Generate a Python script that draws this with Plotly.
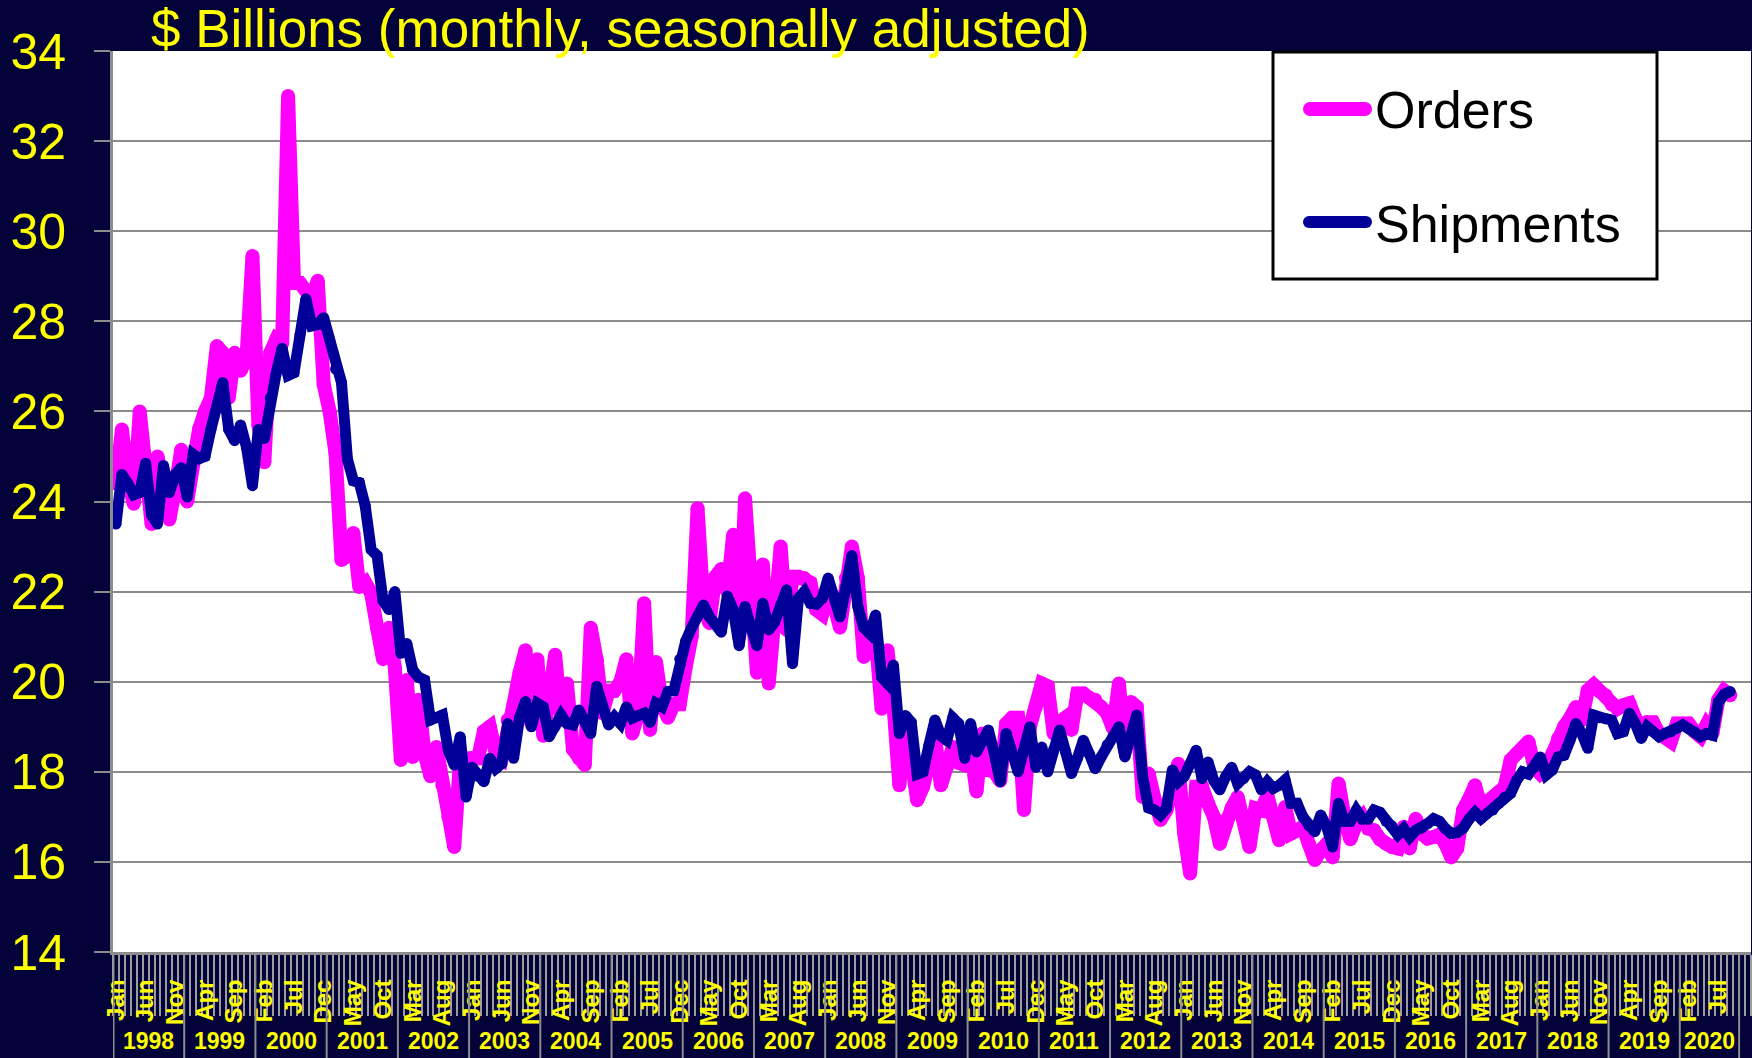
import plotly.graph_objects as go

# ---------------- data ----------------
MONTH_NAMES = ["Jan", "Feb", "Mar", "Apr", "May", "Jun",
               "Jul", "Aug", "Sep", "Oct", "Nov", "Dec"]
YEARS = list(range(1998, 2021))

orders = [
    24.4, 25.6, 24.5, 23.95, 26.0, 24.5, 23.5, 25.0, 24.3, 23.6, 24.3, 25.15,   # 1998
    24.0, 25.0, 25.6, 26.0, 26.3, 27.45, 27.3, 26.3, 27.3, 26.9, 27.2, 29.45,   # 1999
    25.7, 24.87, 27.3, 27.6, 27.5, 33.0, 28.85, 28.85, 28.7, 28.5, 28.9, 26.6,  # 2000
    26.0, 25.07, 22.7, 22.8, 23.3, 22.1, 22.2, 21.96, 21.2, 20.5, 21.2, 20.3,   # 2001
    18.26, 20.04, 18.33, 19.6, 18.4, 17.9, 18.55, 17.7, 17.0, 16.33, 18.3, 18.26,  # 2002
    18.3, 18.3, 18.9, 19.0, 18.4, 18.3, 19.15, 19.5, 20.2, 20.7, 19.07, 20.5,   # 2003
    18.8, 19.8, 20.6, 19.15, 19.96, 18.5, 18.3, 18.15, 21.2, 20.48, 19.3, 19.8,  # 2004
    19.8, 20.0, 20.5, 18.85, 19.3, 21.74, 18.93, 20.44, 19.5, 19.2, 19.5, 19.5,  # 2005
    20.33, 21.0, 23.85, 21.67, 21.3, 22.33, 22.5, 22.0, 23.26, 21.0, 24.07, 21.9,  # 2006
    20.2, 22.6, 19.96, 21.5, 23.0, 21.15, 22.33, 22.33, 22.3, 22.2, 21.6, 21.5,  # 2007
    22.0, 21.7, 21.2, 22.3, 23.0, 22.3, 20.55, 20.8, 21.0, 19.4, 20.7, 19.5,    # 2008
    17.7, 19.2, 18.3, 17.37, 17.67, 18.2, 18.78, 17.7, 18.1, 18.55, 18.2, 18.15,  # 2009
    18.5, 17.56, 18.85, 18.04, 18.0, 17.8, 19.07, 19.2, 19.2, 17.15, 19.0, 19.44,  # 2010
    19.96, 19.9, 18.85, 19.1, 19.2, 18.93, 19.74, 19.74, 19.65, 19.6, 19.44, 19.3,  # 2011
    18.96, 19.96, 18.48, 19.55, 19.44, 17.44, 17.96, 17.4, 16.93, 17.15, 17.7, 18.18,  # 2012
    16.63, 15.74, 17.67, 17.67, 17.3, 17.0, 16.4, 16.93, 17.2, 17.44, 16.9, 16.33,  # 2013
    17.19, 17.15, 17.48, 17.0, 16.48, 17.22, 16.63, 16.7, 16.78, 16.4, 16.04, 16.26,  # 2014
    16.4, 16.1, 17.74, 17.0, 16.5, 16.85, 17.0, 16.74, 16.7, 16.5, 16.4, 16.33,  # 2015
    16.3, 16.78, 16.3, 16.96, 16.63, 16.52, 16.55, 16.6, 16.4, 16.1, 16.3, 17.15,  # 2016
    17.4, 17.7, 17.22, 17.3, 17.4, 17.55, 17.67, 18.26, 18.4, 18.5, 18.67, 18.1,  # 2017
    17.96, 18.07, 18.4, 18.74, 19.0, 19.19, 19.44, 19.15, 19.81, 19.93, 19.78, 19.7,  # 2018
    19.5, 19.4, 19.48, 19.52, 19.19, 19.0, 19.1, 19.1, 18.85, 18.8, 18.67, 19.07,  # 2019
    19.07, 19.07, 18.89, 18.78, 19.04, 18.85, 19.6, 19.8, 19.7,                 # 2020
]

shipments = [
    23.5, 24.6, 24.4, 24.15, 24.2, 24.85, 23.7, 23.5, 24.8, 24.2, 24.6, 24.75,  # 1998
    24.1, 25.05, 24.95, 25.0, 25.6, 26.1, 26.64, 25.6, 25.35, 25.7, 25.2, 24.35,  # 1999
    25.6, 25.4, 26.3, 26.85, 27.4, 26.8, 26.86, 27.7, 28.5, 27.9, 27.93, 28.08,  # 2000
    27.6, 26.94, 26.64, 24.94, 24.46, 24.42, 23.9, 22.93, 22.8, 21.8, 21.6, 22.0,  # 2001
    20.63, 20.85, 20.26, 20.1, 20.04, 19.15, 19.2, 19.26, 18.48, 18.15, 18.78, 17.44,  # 2002
    18.1, 17.9, 17.78, 18.3, 18.07, 18.18, 19.07, 18.3, 19.2, 19.56, 19.0, 19.52,  # 2003
    19.44, 18.78, 19.0, 19.26, 19.07, 19.04, 19.37, 19.1, 18.85, 19.9, 19.4, 19.04,  # 2004
    19.22, 19.07, 19.44, 19.19, 19.25, 19.3, 19.1, 19.52, 19.44, 19.78, 19.8, 20.5,  # 2005
    20.9, 21.2, 21.45, 21.7, 21.44, 21.3, 21.1, 21.9, 21.6, 20.8, 21.67, 21.2,  # 2006
    20.8, 21.74, 21.15, 21.33, 21.7, 22.04, 20.4, 21.85, 22.0, 21.74, 21.72, 21.85,  # 2007
    22.3, 21.9, 21.44, 22.1, 22.8, 21.67, 21.2, 21.07, 21.48, 20.1, 19.96, 20.37,  # 2008
    18.85, 19.25, 19.1, 17.95, 18.0, 18.6, 19.15, 18.8, 18.7, 19.2, 19.07, 18.3,  # 2009
    19.07, 18.44, 18.7, 18.93, 18.4, 17.78, 18.85, 18.4, 18.0, 18.5, 19.0, 18.1,  # 2010
    18.55, 18.0, 18.5, 18.93, 18.45, 17.96, 18.3, 18.7, 18.4, 18.07, 18.33, 18.6,  # 2011
    18.78, 19.0, 18.33, 18.8, 19.26, 17.89, 17.2, 17.15, 17.04, 17.19, 18.04, 17.78,  # 2012
    17.9, 18.18, 18.48, 17.85, 18.22, 17.8, 17.6, 17.9, 18.1, 17.74, 17.85, 18.0,  # 2013
    17.93, 17.6, 17.78, 17.63, 17.7, 17.82, 17.3, 17.3, 17.0, 16.8, 16.67, 17.04,  # 2014
    16.78, 16.33, 17.3, 16.9, 16.9, 17.15, 16.95, 16.95, 17.15, 17.1, 16.9, 16.8,  # 2015
    16.6, 16.74, 16.55, 16.7, 16.75, 16.85, 16.96, 16.9, 16.74, 16.63, 16.65, 16.75,  # 2016
    16.95, 17.1, 16.96, 17.07, 17.15, 17.3, 17.44, 17.52, 17.81, 18.0, 17.95, 18.1,  # 2017
    18.33, 17.93, 18.04, 18.33, 18.37, 18.7, 19.07, 18.85, 18.52, 19.26, 19.2, 19.18,  # 2018
    19.15, 18.85, 18.89, 19.3, 19.07, 18.74, 19.0, 18.89, 18.78, 18.85, 18.89, 18.97,  # 2019
    19.04, 18.96, 18.89, 18.78, 18.85, 18.81, 19.55, 19.72, 19.78,              # 2020
]

Y_TICKS = list(range(14, 35, 2))
TITLE = "$ Billions (monthly, seasonally adjusted)"
SERIES_NAMES = ["Orders", "Shipments"]
# months shown per year block on the category axis (the last block stops at Oct 2020)
YEAR_BLOCK_MONTHS = [12] * (len(YEARS) - 1) + [10]

# ---------------- derived ----------------
n_slots = len(YEARS) * 12
month_idx = list(range(len(orders)))
label_idx = [i for i in range(0, n_slots, 5) if i <= 270]
label_txt = [MONTH_NAMES[i % 12] for i in label_idx]

block_starts = [0]
for m in YEAR_BLOCK_MONTHS:
    block_starts.append(block_starts[-1] + m)

# ---------------- style / geometry ----------------
W, H = 1752, 1058
L, R, T, B = 113, 1, 51, 106
PW, PH = W - L - R, H - T - B
BG = "#030339"
GRID = "#8c8c8c"
YEL = "#ffff00"
MAG = "#ff00ff"
NAVY = "#000099"
FONT = "Liberation Sans, Arial, sans-serif"
LW_O, LW_S = 14, 11


def xp(px):
    return (px - L) / PW


def yp(py):
    return (H - B - py) / PH


fig = go.Figure()
fig.add_trace(go.Scatter(x=month_idx, y=orders, name=SERIES_NAMES[0], mode="lines+markers",
                         line=dict(color=MAG, width=LW_O),
                         marker=dict(color=MAG, size=LW_O, line=dict(width=0)),
                         showlegend=False, hoverinfo="x+y"))
fig.add_trace(go.Scatter(x=month_idx, y=shipments, name=SERIES_NAMES[1], mode="lines+markers",
                         line=dict(color=NAVY, width=LW_S),
                         marker=dict(color=NAVY, size=LW_S, line=dict(width=0)),
                         showlegend=False, hoverinfo="x+y"))

shapes = []
# year separators in the label band
for k, s in enumerate(block_starts):
    xv = s - 0.5
    shapes.append(dict(type="line", xref="x", yref="paper", x0=xv, x1=xv,
                       y0=0, y1=-B / PH, line=dict(color=GRID, width=3 if k == 0 else 2),
                       layer="above"))

# manual legend box
shapes.append(dict(type="rect", xref="paper", yref="paper",
                   x0=xp(1273), x1=xp(1657), y0=yp(279), y1=yp(52),
                   fillcolor="white", line=dict(color="black", width=3), layer="above"))
for yc, col, lw in [(109, MAG, 14), (222, NAVY, 12)]:
    shapes.append(dict(type="line", xref="paper", yref="paper",
                       x0=xp(1303 + lw / 2), x1=xp(1372 - lw / 2), y0=yp(yc), y1=yp(yc),
                       line=dict(color=col, width=lw), layer="above"))
    for cx in (1303 + lw / 2, 1372 - lw / 2):
        shapes.append(dict(type="circle", xref="paper", yref="paper",
                           x0=xp(cx - lw / 2), x1=xp(cx + lw / 2),
                           y0=yp(yc + lw / 2), y1=yp(yc - lw / 2),
                           fillcolor=col, line=dict(width=0), layer="above"))

annotations = []
for k, yr in enumerate(YEARS):
    xc = (block_starts[k] + block_starts[k + 1] - 1) / 2
    annotations.append(dict(x=xc, xref="x", y=-(1041 - (H - B)) / PH, yref="paper",
                            text=str(yr), showarrow=False, yanchor="middle", xanchor="center",
                            font=dict(family=FONT, size=23, color=YEL, weight="bold")))
for name, yc in [(SERIES_NAMES[0], 110), (SERIES_NAMES[1], 224)]:
    annotations.append(dict(x=xp(1373), xref="paper", y=yp(yc), yref="paper", text=name,
                            showarrow=False, xanchor="left", yanchor="middle",
                            font=dict(family=FONT, size=52, color="black")))

fig.update_layout(
    width=W, height=H, autosize=False,
    margin=dict(l=L, r=R, t=T, b=B, pad=0),
    paper_bgcolor=BG, plot_bgcolor="white",
    showlegend=False,
    title=dict(text=TITLE, x=151 / W, xref="container", xanchor="left",
               y=1 - 28.5 / H, yref="container", yanchor="middle",
               font=dict(family=FONT, size=53, color=YEL)),
    shapes=shapes, annotations=annotations,
    xaxis=dict(range=[-0.5, n_slots - 0.5], tickmode="array", tickvals=label_idx,
               ticktext=label_txt, tickangle=-90, ticks="", showgrid=False, zeroline=False,
               showline=True, linecolor=GRID, linewidth=3, ticklabelstandoff=15,
               tickfont=dict(family=FONT, size=24, color=YEL, weight="bold"),
               minor=dict(ticks="outside", tickmode="array",
                          tickvals=[i - 0.5 for i in range(n_slots + 1)],
                          ticklen=61, tickwidth=2, tickcolor="#9c9c9c", showgrid=False)),
    yaxis=dict(range=[14, 34], tickmode="array", tickvals=Y_TICKS, ticks="outside",
               ticklen=16, tickwidth=2, tickcolor=GRID, showgrid=True, gridcolor=GRID,
               gridwidth=2, zeroline=False, showline=True, linecolor=GRID, linewidth=3,
               ticklabelstandoff=18,
               tickfont=dict(family=FONT, size=50, color=YEL)),
)

fig.write_html(
    "out.html",
    config={"displayModeBar": False},
    post_script="document.body.style.margin='0';document.body.style.background='%s';" % BG,
)
